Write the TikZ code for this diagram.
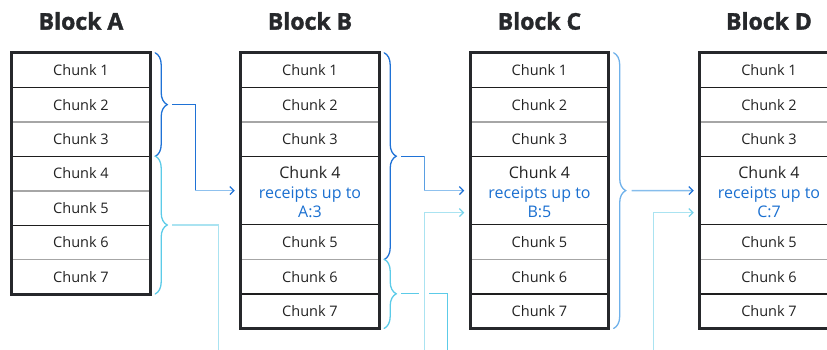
\documentclass[tikz,border=0pt]{standalone}
\usepackage{fontspec}
\setmainfont{Open Sans}
\newfontfamily\titlefont{Open Sans}[BoldFeatures={FakeBold=1.6}]
\usetikzlibrary{decorations.pathreplacing,arrows.meta,calc}

\definecolor{framecol}{HTML}{26282B}
\definecolor{sepdark}{HTML}{1E1E1E}
\definecolor{sepgray}{HTML}{A6A6A6}
\definecolor{txt}{HTML}{222222}
\definecolor{rcpt}{HTML}{1A6FD0}
\definecolor{bluebrace}{HTML}{1F72D6}
\definecolor{bluemid}{HTML}{5A9FE2}
\definecolor{bluelight}{HTML}{8FC1EE}
\definecolor{cyanbrace}{HTML}{5CCBE8}
\definecolor{cyanline}{HTML}{AAE3F1}
\definecolor{cyantip}{HTML}{74D2EA}
\definecolor{skybrace}{HTML}{6FB1EA}
\definecolor{skyline}{HTML}{86BDEC}

\tikzset{
  cell/.style={minimum width=138pt, minimum height=34.4pt, inner sep=0pt,
    text=txt, font=\fontsize{14.5}{16}\selectfont},
  tallcell/.style={cell, minimum height=68.8pt, align=center,
    font=\fontsize{16}{19.5}\selectfont},
  title/.style={font=\titlefont\fontsize{23}{26}\selectfont\bfseries, text=framecol},
  frame/.style={draw=framecol, line width=3pt},
  sepk/.style={draw=sepdark, line width=1.2pt},
  sepg/.style={draw=sepgray, line width=1.6pt},
  curly/.style={decorate, decoration={brace, amplitude=12pt}, line width=1.3pt,
    line cap=round},
  tipblue/.style={-{Straight Barb[length=4pt, width=8pt, color=bluebrace]}},
  tipcyan/.style={-{Straight Barb[length=4pt, width=8pt, color=cyantip]}},
  link/.style={line width=1.3pt},
}

\begin{document}
\begin{tikzpicture}[x=1pt, y=-1pt]
\useasboundingbox (0,0) rectangle (827,350);
\clip (0,0) rectangle (827,350);

% ---- Block A: seven equal chunks
\node[title] (tA) at (81,21) {Block A};
\foreach \i in {1,...,7}
  \node[cell] (A\i) at (81,{53+(\i-0.5)*34.4}) {Chunk \i};
\foreach \i/\s in {1/sepk,2/sepg,3/sepk,4/sepg,5/sepk,6/sepg}
  \draw[\s] (A\i.south west) -- (A\i.south east);
\draw[frame] (A1.north west) rectangle (A7.south east);

% ---- Blocks B, C, D: chunk 4 carries the receipts
\foreach \b/\cx/\prev/\n in {B/310/A/3, C/539.5/B/5, D/769/C/7} {
  \node[title] (t\b) at (\cx,21) {Block \b};
  \foreach \i in {1,2,3}
    \node[cell] (\b\i) at (\cx,{53+(\i-0.5)*34.4}) {Chunk \i};
  \node[tallcell] (\b4) at (\cx,{54.5+4*34.4})
    {Chunk 4\\\textcolor{rcpt}{receipts up to}\\\textcolor{rcpt}{\prev:\n}};
  \foreach \i in {5,6,7}
    \node[cell] (\b\i) at (\cx,{53+(\i+0.5)*34.4}) {Chunk \i};
  \foreach \i/\s in {1/sepk,2/sepg,3/sepk,6/sepk}
    \draw[\s] (\b\i.south west) -- (\b\i.south east);
  \draw[sepk] (\b5.north west) -- (\b5.north east);
  \draw[sepg] (\b5.south west) -- (\b5.south east);
  \draw[frame] (\b1.north west) rectangle (\b7.south east);
}

% ---- braces
\draw[curly, draw=bluebrace] ($(A1.north east)+(5,0)$) -- ($(A3.south east)+(5,0)$);
\draw[curly, draw=cyanbrace] ($(A4.north east)+(5,0)$) -- ($(A7.south east)+(5,0)$);
\draw[curly, draw=bluebrace] ($(B1.north east)+(5,0)$) -- ($(B5.south east)+(5,0)$);
\draw[curly, draw=cyanbrace] ($(B6.north east)+(5,0)$) -- ($(B7.south east)+(5,0)$);
\draw[curly, draw=skybrace]  ($(C1.north east)+(5,0)$) -- ($(C7.south east)+(5,0)$);

% ---- connector end points
\coordinate (sA1) at ($(A2.east)+(22,0)$);
\coordinate (sA2) at ($(A4.north east)!0.5!(A7.south east)+(22,0)$);
\coordinate (sB1) at ($(B1.north east)!0.5!(B5.south east)+(22,0)$);
\coordinate (sB2) at ($(B6.north east)!0.5!(B7.south east)+(22,0)$);
\coordinate (sC1) at ($(C1.north east)!0.5!(C7.south east)+(23,0)$);
\coordinate (eB1) at ($(B4.west)+(-6,-1.5)$);
\coordinate (eC1) at ($(C4.west)+(-6,-1.5)$);
\coordinate (eC2) at ($(C4.west)+(-6,20.5)$);
\coordinate (eD1) at ($(D4.west)+(-6,-1.5)$);
\coordinate (eD2) at ($(D4.west)+(-6,20.5)$);
\coordinate (kA1) at ($(A2.east)+(45,0)$);
\coordinate (kB1) at ($(B2.east)+(45,0)$);
\coordinate (dA2) at ($(A7.east)+(68,0)$);
\coordinate (dB2) at ($(B7.east)+(68,0)$);
\coordinate (uC2) at ($(B7.east)+(45,0)$);
\coordinate (uD2) at ($(C7.east)+(45,0)$);

% ---- A:1-3 -> B
\draw[link, bluebrace] (sA1) -- (sA1 -| kA1) -- (kA1 |- eB1);
\draw[link, bluelight, tipblue] (kA1 |- eB1) -- (eB1);
% ---- A:4-7 runs down and on
\draw[link, cyanline] (sA2) -| (dA2 |- 0,360);
% ---- B:1-5 -> C
\draw[link, bluebrace] (sB1) -- (sB1 -| kB1);
\draw[link, bluemid] (sB1 -| kB1) -- (kB1 |- eC1);
\draw[link, bluelight, tipblue] (kB1 |- eC1) -- (eC1);
% ---- B:6-7 runs down and on, crossing the rising line
\draw[link, cyanbrace] (sB2) -| (dB2 |- 0,360);
\draw[white, line width=10pt] (uC2 |- 0,288) -- (uC2 |- 0,302);
% ---- incoming receipts to C and D
\draw[link, cyanline, tipcyan] (uC2 |- 0,360) |- (eC2);
\draw[link, cyanline, tipcyan] (uD2 |- 0,360) |- (eD2);
% ---- C:1-7 -> D
\draw[link, skyline, tipblue] (sC1) -- (eD1);
\end{tikzpicture}
\end{document}
